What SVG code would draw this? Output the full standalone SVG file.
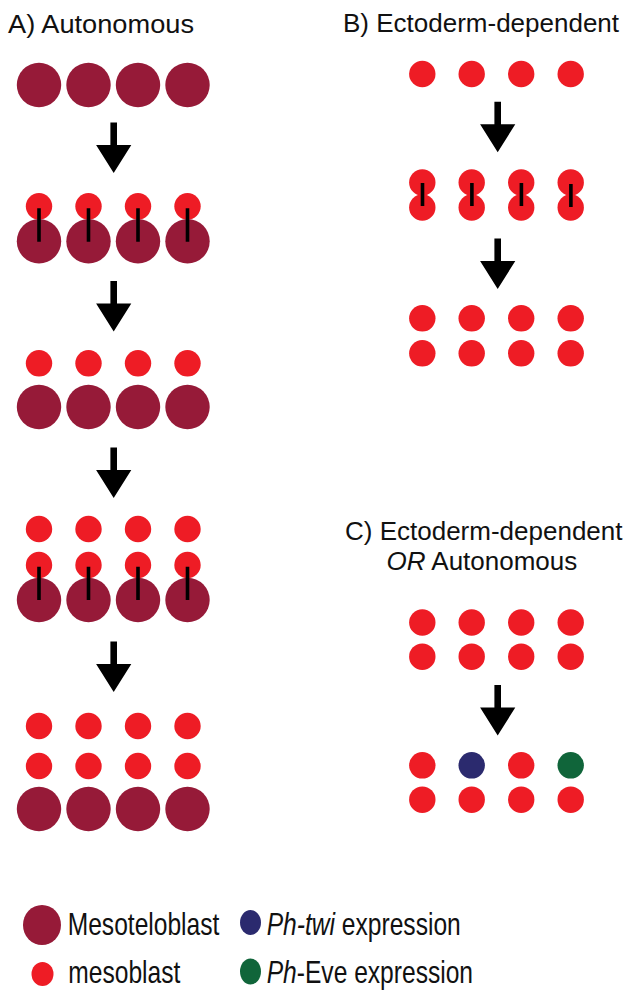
<svg xmlns="http://www.w3.org/2000/svg" xmlns:xlink="http://www.w3.org/1999/xlink" width="628" height="992" viewBox="0 0 628 992">
<style>
.mt{fill:#961A38}
.mb{fill:#EE1C25}
.tw{fill:#2B2A6E}
.ev{fill:#10653A}
.dv{stroke:#000;stroke-width:3.6;stroke-linecap:butt}
.t{font-family:"Liberation Sans",Arial,Helvetica,sans-serif;font-size:26px;fill:#111}
.lg{font-family:"Liberation Sans",Arial,Helvetica,sans-serif;font-size:24.6px;fill:#111}
.it{font-style:italic}
.arrow{fill:#000}
</style>
<defs>
<path id="arr" d="M-3.3,0 H3.3 V22.5 H17.6 L0,50.5 L-17.6,22.5 H-3.3 Z"/>
</defs>
<rect width="628" height="992" fill="#fff"/>

<!-- Titles -->
<g id="title-A"><text class="t" x="8" y="33" textLength="186" lengthAdjust="spacingAndGlyphs">A) Autonomous</text></g>
<g id="title-B"><text class="t" x="343" y="32">B) Ectoderm-dependent</text></g>
<g id="title-C"><text class="t" x="345" y="540">C) Ectoderm-dependent</text><text class="t" x="386.5" y="570"><tspan class="it">OR</tspan> Autonomous</text></g>

<!-- Panel A -->
<g id="A-row1">
<circle class="mt" cx="39" cy="85" r="22.2"/><circle class="mt" cx="88.5" cy="85" r="22.2"/><circle class="mt" cx="138" cy="85" r="22.2"/><circle class="mt" cx="187.5" cy="85" r="22.2"/>
</g>
<g id="A-row2">
<circle class="mb" cx="39" cy="206.3" r="13.2"/><circle class="mb" cx="88.5" cy="206.3" r="13.2"/><circle class="mb" cx="138" cy="206.3" r="13.2"/><circle class="mb" cx="187.5" cy="206.3" r="13.2"/>
<circle class="mt" cx="39" cy="241.3" r="22.2"/><circle class="mt" cx="88.5" cy="241.3" r="22.2"/><circle class="mt" cx="138" cy="241.3" r="22.2"/><circle class="mt" cx="187.5" cy="241.3" r="22.2"/>
<path class="dv" d="M39,208.3V241.7M88.5,208.3V241.7M138,208.3V241.7M187.5,208.3V241.7"/>
</g>
<g id="A-row3">
<circle class="mb" cx="39" cy="363.3" r="13.2"/><circle class="mb" cx="88.5" cy="363.3" r="13.2"/><circle class="mb" cx="138" cy="363.3" r="13.2"/><circle class="mb" cx="187.5" cy="363.3" r="13.2"/>
<circle class="mt" cx="39" cy="407" r="22.2"/><circle class="mt" cx="88.5" cy="407" r="22.2"/><circle class="mt" cx="138" cy="407" r="22.2"/><circle class="mt" cx="187.5" cy="407" r="22.2"/>
</g>
<g id="A-row4">
<circle class="mb" cx="39" cy="529" r="13.2"/><circle class="mb" cx="88.5" cy="529" r="13.2"/><circle class="mb" cx="138" cy="529" r="13.2"/><circle class="mb" cx="187.5" cy="529" r="13.2"/>
<circle class="mb" cx="39" cy="565" r="13.2"/><circle class="mb" cx="88.5" cy="565" r="13.2"/><circle class="mb" cx="138" cy="565" r="13.2"/><circle class="mb" cx="187.5" cy="565" r="13.2"/>
<circle class="mt" cx="39" cy="600" r="22.2"/><circle class="mt" cx="88.5" cy="600" r="22.2"/><circle class="mt" cx="138" cy="600" r="22.2"/><circle class="mt" cx="187.5" cy="600" r="22.2"/>
<path class="dv" d="M39,566.7V600M88.5,566.7V600M138,566.7V600M187.5,566.7V600"/>
</g>
<g id="A-row5">
<circle class="mb" cx="39" cy="726" r="13.2"/><circle class="mb" cx="88.5" cy="726" r="13.2"/><circle class="mb" cx="138" cy="726" r="13.2"/><circle class="mb" cx="187.5" cy="726" r="13.2"/>
<circle class="mb" cx="39" cy="766" r="13.2"/><circle class="mb" cx="88.5" cy="766" r="13.2"/><circle class="mb" cx="138" cy="766" r="13.2"/><circle class="mb" cx="187.5" cy="766" r="13.2"/>
<circle class="mt" cx="39" cy="809" r="22.2"/><circle class="mt" cx="88.5" cy="809" r="22.2"/><circle class="mt" cx="138" cy="809" r="22.2"/><circle class="mt" cx="187.5" cy="809" r="22.2"/>
</g>

<!-- Panel B -->
<g id="B-row1">
<circle class="mb" cx="422.3" cy="74" r="13.2"/><circle class="mb" cx="471.7" cy="74" r="13.2"/><circle class="mb" cx="521.2" cy="74" r="13.2"/><circle class="mb" cx="570.7" cy="74" r="13.2"/>
</g>
<g id="B-row2">
<circle class="mb" cx="422.3" cy="182.5" r="13.2"/><circle class="mb" cx="471.7" cy="182.5" r="13.2"/><circle class="mb" cx="521.2" cy="182.5" r="13.2"/><circle class="mb" cx="570.7" cy="182.5" r="13.2"/>
<circle class="mb" cx="422.3" cy="207.5" r="13.2"/><circle class="mb" cx="471.7" cy="207.5" r="13.2"/><circle class="mb" cx="521.2" cy="207.5" r="13.2"/><circle class="mb" cx="570.7" cy="207.5" r="13.2"/>
<path class="dv" d="M422.5,183V206M471.9,183V206M521.4,183V206M570.9,184V207"/>
</g>
<g id="B-row3">
<circle class="mb" cx="422.3" cy="318.3" r="13.2"/><circle class="mb" cx="471.7" cy="318.3" r="13.2"/><circle class="mb" cx="521.2" cy="318.3" r="13.2"/><circle class="mb" cx="570.7" cy="318.3" r="13.2"/>
<circle class="mb" cx="422.3" cy="353.3" r="13.2"/><circle class="mb" cx="471.7" cy="353.3" r="13.2"/><circle class="mb" cx="521.2" cy="353.3" r="13.2"/><circle class="mb" cx="570.7" cy="353.3" r="13.2"/>
</g>

<!-- Panel C -->
<g id="C-row1">
<circle class="mb" cx="422.3" cy="622.5" r="13.2"/><circle class="mb" cx="471.7" cy="622.5" r="13.2"/><circle class="mb" cx="521.2" cy="622.5" r="13.2"/><circle class="mb" cx="570.7" cy="622.5" r="13.2"/>
<circle class="mb" cx="422.3" cy="656.7" r="13.2"/><circle class="mb" cx="471.7" cy="656.7" r="13.2"/><circle class="mb" cx="521.2" cy="656.7" r="13.2"/><circle class="mb" cx="570.7" cy="656.7" r="13.2"/>
</g>
<g id="C-row2">
<circle class="mb" cx="422.3" cy="765.3" r="13.2"/><circle class="tw" cx="471.7" cy="765.3" r="13.2"/><circle class="mb" cx="521.2" cy="765.3" r="13.2"/><circle class="ev" cx="570.7" cy="765.3" r="13.2"/>
<circle class="mb" cx="422.3" cy="799.7" r="13.2"/><circle class="mb" cx="471.7" cy="799.7" r="13.2"/><circle class="mb" cx="521.2" cy="799.7" r="13.2"/><circle class="mb" cx="570.7" cy="799.7" r="13.2"/>
</g>

<!-- Connectors (arrows) -->
<g id="connectors" class="arrow">
<use xlink:href="#arr" href="#arr" x="113.7" y="122.5"/>
<use xlink:href="#arr" href="#arr" x="113.7" y="281"/>
<use xlink:href="#arr" href="#arr" x="113.7" y="447.5"/>
<use xlink:href="#arr" href="#arr" x="113.7" y="641.5"/>
<use xlink:href="#arr" href="#arr" x="497.7" y="101.7"/>
<use xlink:href="#arr" href="#arr" x="497.7" y="238.5"/>
<use xlink:href="#arr" href="#arr" x="497.7" y="685"/>
</g>

<!-- Legend -->
<g id="legend-mesoteloblast">
<ellipse class="mt" cx="42" cy="925" rx="19" ry="20"/>
<text class="lg" x="67.7" y="935" transform="matrix(1,0,0,1.25,0,-233.75)">Mesoteloblast</text>
</g>
<g id="legend-mesoblast">
<ellipse class="mb" cx="42.5" cy="974" rx="11" ry="12"/>
<text class="lg" x="68.3" y="983.3" transform="matrix(1,0,0,1.25,0,-245.83)">mesoblast</text>
</g>
<g id="legend-twi">
<ellipse class="tw" cx="250.5" cy="922.5" rx="10.5" ry="12.5"/>
<text class="lg" x="266.7" y="935" transform="matrix(1,0,0,1.25,0,-233.75)"><tspan class="it">Ph-twi</tspan> expression</text>
</g>
<g id="legend-eve">
<ellipse class="ev" cx="250.5" cy="971.5" rx="10.5" ry="13"/>
<text class="lg" x="266.7" y="983.3" transform="matrix(1,0,0,1.25,0,-245.83)"><tspan class="it">Ph</tspan>-Eve expression</text>
</g>
</svg>
